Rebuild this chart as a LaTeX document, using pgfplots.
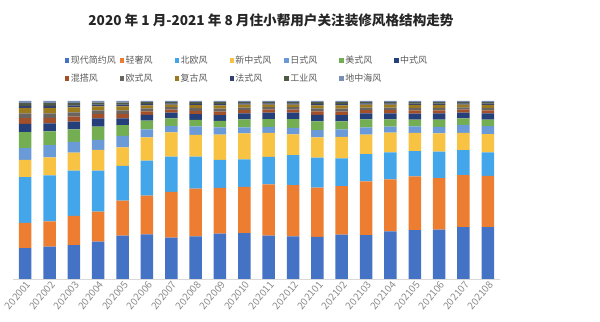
\documentclass[border=0pt]{standalone}
\usepackage{pgfplots}
\pgfplotsset{compat=1.18}
\usepackage{pgfplotstable}
\usepackage{fontspec}
\setmainfont{Noto Sans CJK SC}
\definecolor{cA}{HTML}{4472C4}
\definecolor{cB}{HTML}{ED7D31}
\definecolor{cC}{HTML}{43A6EA}
\definecolor{cD}{HTML}{F8C243}
\definecolor{cE}{HTML}{6A9BD8}
\definecolor{cF}{HTML}{74AE52}
\definecolor{cG}{HTML}{253F7A}
\definecolor{cH}{HTML}{A2502A}
\definecolor{cI}{HTML}{6B6560}
\definecolor{cJ}{HTML}{9C7A1E}
\definecolor{cK}{HTML}{34406E}
\definecolor{cL}{HTML}{4E5A44}
\definecolor{cM}{HTML}{7A8FB8}
\definecolor{txt}{HTML}{595959}
\pgfplotstableread{
x a b c d e f g h i j k l n
0 17.4 14.2 25.7 9.6 6.6 9.0 4.7 3.2 2.6 3.0 1.2 1.6 1.2
1 18.2 14.2 25.8 10.1 6.9 7.7 4.5 3.0 2.6 3.0 1.2 1.6 1.2
2 19.1 16.3 25.5 10.1 6.0 7.1 4.3 2.8 2.4 2.8 1.1 1.4 1.1
3 21.0 16.9 23.0 11.6 5.6 7.5 4.7 2.4 2.0 2.3 0.9 1.2 0.9
4 24.3 19.7 19.5 10.5 6.4 6.0 3.9 2.4 2.0 2.3 0.9 1.2 0.9
5 25.1 21.7 19.7 13.1 4.5 4.9 3.2 2.0 1.6 1.8 0.8 1.0 0.6
6 23.2 25.8 19.7 13.7 3.6 4.3 3.2 1.7 1.3 1.5 0.7 0.8 0.5
7 24.0 26.8 18.0 12.2 4.7 3.7 3.2 1.9 1.5 1.7 0.7 1.0 0.6
8 25.5 25.7 15.7 14.2 4.1 3.7 3.2 2.0 1.6 1.8 0.8 1.0 0.7
9 25.8 26.0 15.4 14.6 3.4 4.5 3.4 1.8 1.4 1.6 0.7 0.9 0.5
10 24.3 28.8 15.5 13.5 3.4 4.3 3.7 1.7 1.3 1.5 0.7 0.8 0.5
11 24.0 28.7 16.9 11.6 3.7 4.9 3.7 1.7 1.3 1.5 0.7 0.8 0.5
12 23.6 27.7 16.9 11.4 4.1 4.9 3.6 2.0 1.6 1.8 0.8 1.0 0.6
13 24.9 27.3 15.5 12.2 4.1 4.5 3.6 2.0 1.6 1.8 0.8 1.0 0.7
14 24.7 30.1 15.4 10.9 4.1 4.5 3.4 1.8 1.4 1.6 0.7 0.9 0.5
15 26.8 29.2 15.2 11.0 3.4 4.1 3.4 1.8 1.4 1.6 0.7 0.9 0.5
16 27.5 30.1 14.2 10.3 3.7 3.7 3.4 1.8 1.4 1.7 0.7 0.9 0.6
17 27.7 29.0 14.8 10.3 3.7 4.1 3.4 1.8 1.4 1.6 0.7 0.9 0.6
18 29.2 29.2 14.0 9.7 4.5 3.6 3.2 1.7 1.3 1.5 0.7 0.9 0.5
19 29.2 28.8 13.1 10.3 4.5 3.7 3.4 1.8 1.4 1.6 0.7 0.9 0.6
}\datatable
\newcommand{\lt}[1]{\makebox[49bp][l]{#1}}
\begin{document}
\begin{tikzpicture}
\useasboundingbox (0,0) rectangle (600bp,322bp);
\node[font=\fontsize{13.6bp}{16bp}\selectfont\bfseries, text=black!85] at (271bp,302bp) {2020 年 1 月-2021 年 8 月住小帮用户关注装修风格结构走势};
\begin{axis}[
  at={(13bp,43bp)}, anchor=south west,
  scale only axis, width=487bp, height=178bp,
  ybar stacked, bar width=12.5bp,
  xmin=-0.5, xmax=19.5, ymin=0, ymax=100,
  axis y line=none,
  axis x line*=bottom,
  x axis line style={draw=black!15, line width=0.8bp},
  xtick=data, major tick length=0pt,
  xticklabels={202001,202002,202003,202004,202005,202006,202007,202008,202009,202010,202011,202012,202101,202102,202103,202104,202105,202106,202107,202108},
  xticklabel style={rotate=50, anchor=east, font=\fontsize{10bp}{11bp}\selectfont, text=black!45, xshift=3bp, yshift=-5bp},
  legend columns=7,
  legend style={at={(0.1,1.265)}, anchor=north west, draw=none, fill=none,
    font=\fontsize{9bp}{11bp}\selectfont, text=txt,
    nodes={inner sep=0pt}, row sep=9bp,
    /tikz/every odd column/.append style={column sep=1.5bp}},
  legend image code/.code={\fill[#1] (0bp,-2.2bp) rectangle (4.4bp,2.2bp);},
  every axis plot/.append style={draw=none},
]
\addplot[fill=cA] table[y=a] {\datatable}; \addlegendentry{\lt{现代简约风}}
\addplot[fill=cB] table[y=b] {\datatable}; \addlegendentry{\lt{轻奢风}}
\addplot[fill=cC] table[y=c] {\datatable}; \addlegendentry{\lt{北欧风}}
\addplot[fill=cD] table[y=d] {\datatable}; \addlegendentry{\lt{新中式风}}
\addplot[fill=cE] table[y=e] {\datatable}; \addlegendentry{\lt{日式风}}
\addplot[fill=cF] table[y=f] {\datatable}; \addlegendentry{\lt{美式风}}
\addplot[fill=cG] table[y=g] {\datatable}; \addlegendentry{\lt{中式风}}
\addplot[fill=cH] table[y=h] {\datatable}; \addlegendentry{\lt{混搭风}}
\addplot[fill=cI] table[y=i] {\datatable}; \addlegendentry{\lt{欧式风}}
\addplot[fill=cJ] table[y=j] {\datatable}; \addlegendentry{\lt{复古风}}
\addplot[fill=cK] table[y=k] {\datatable}; \addlegendentry{\lt{法式风}}
\addplot[fill=cL] table[y=l] {\datatable}; \addlegendentry{\lt{工业风}}
\addplot[fill=cM] table[y=n] {\datatable}; \addlegendentry{\lt{地中海风}}
\end{axis}
\end{tikzpicture}
\end{document}
